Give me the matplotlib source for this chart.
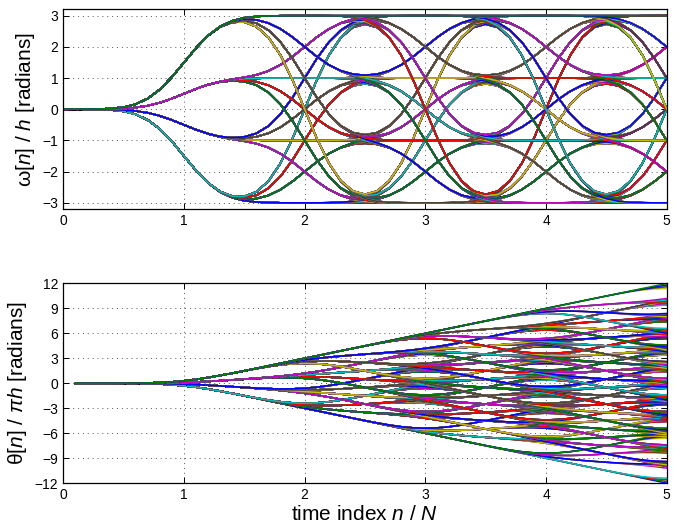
import itertools
import math
import numpy as np
import matplotlib
matplotlib.use("Agg")
import matplotlib.pyplot as plt

plt.rcParams["font.family"] = ["Liberation Sans", "DejaVu Sans"]
plt.rcParams["mathtext.fontset"] = "custom"
plt.rcParams["mathtext.it"] = "Liberation Sans:italic"
plt.rcParams["mathtext.rm"] = "Liberation Sans"

# modulation setup
levels = [-3, -1, 1, 3]          # symbol alphabet (plateaus of the upper panel)
n_symbols = 5                    # symbols that reach the window 0..5
samples_per_symbol = 10          # N
pulse_sigma = 0.25               # gaussian smoothing of the rectangular pulse

matlab_colors = ["#0000ff", "#008000", "#ff0000", "#00bfbf",
                 "#bf00bf", "#bfbf00", "#404040"]

erf = np.frompyfunc(math.erf, 1, 1)


def Phi(x):
    return 0.5 * (1.0 + erf(np.asarray(x, dtype=float) / math.sqrt(2)).astype(float))


def phi(x):
    return np.exp(-0.5 * x ** 2) / math.sqrt(2 * math.pi)


def freq_pulse(t):
    # rectangle on [0, 1] smoothed by a gaussian
    return Phi(t / pulse_sigma) - Phi((t - 1) / pulse_sigma)


def F(x):
    z = x / pulse_sigma
    return x * Phi(z) + pulse_sigma * phi(z)


def phase_pulse(t):
    return F(t) - F(t - 1)


t_top = np.arange(0, n_symbols * samples_per_symbol + 1) / samples_per_symbol
t_bot = np.arange(1, n_symbols * samples_per_symbol + 1) / samples_per_symbol

sequences = np.array(list(itertools.product(levels, repeat=n_symbols)), dtype=float)
starts = np.arange(1, n_symbols + 1)

G = np.array([freq_pulse(t_top - k) for k in starts])    # (symbols, time)
Q = np.array([phase_pulse(t_bot - k) for k in starts])
omega = sequences @ G
theta = sequences @ Q

fig = plt.figure(figsize=(6.81, 5.24), dpi=100)
ax1 = fig.add_axes([0.093, 0.601, 0.886, 0.381])
ax2 = fig.add_axes([0.093, 0.078, 0.886, 0.381])

for ax in (ax1, ax2):
    ax.set_prop_cycle(color=matlab_colors)

ax1.plot(t_top, omega.T, lw=1.1)
ax2.plot(t_bot, theta.T, lw=1.1)

ax1.set_xlim(0, 5)
ax1.set_ylim(-3.2, 3.2)
ax1.set_yticks([-3, -2, -1, 0, 1, 2, 3])
ax1.set_yticklabels(["\u22123", "\u22122", "\u22121", "0", "1", "2", "3"])
ax1.set_ylabel(r"ω[$n$] / $h$ [radians]", fontsize=15)

ax2.set_xlim(0, 5)
ax2.set_ylim(-12, 12)
yt = [-12, -9, -6, -3, 0, 3, 6, 9, 12]
ax2.set_yticks(yt)
ax2.set_yticklabels([str(v).replace("-", "\u2212") for v in yt])
ax2.set_ylabel(r"θ[$n$] / $\pi h$ [radians]", fontsize=15)
ax2.set_xlabel(r"time index $n$ / $N$", fontsize=15, labelpad=2)

for ax in (ax1, ax2):
    ax.set_xticks([0, 1, 2, 3, 4, 5])
    ax.grid(True, color="#555555", linestyle=(0, (1, 4)), linewidth=0.7)
    ax.tick_params(direction="in", top=True, right=True, length=4,
                   labelsize=10, width=0.7)
    for s in ax.spines.values():
        s.set_linewidth(0.9)

fig.savefig("out.png", dpi=100)
